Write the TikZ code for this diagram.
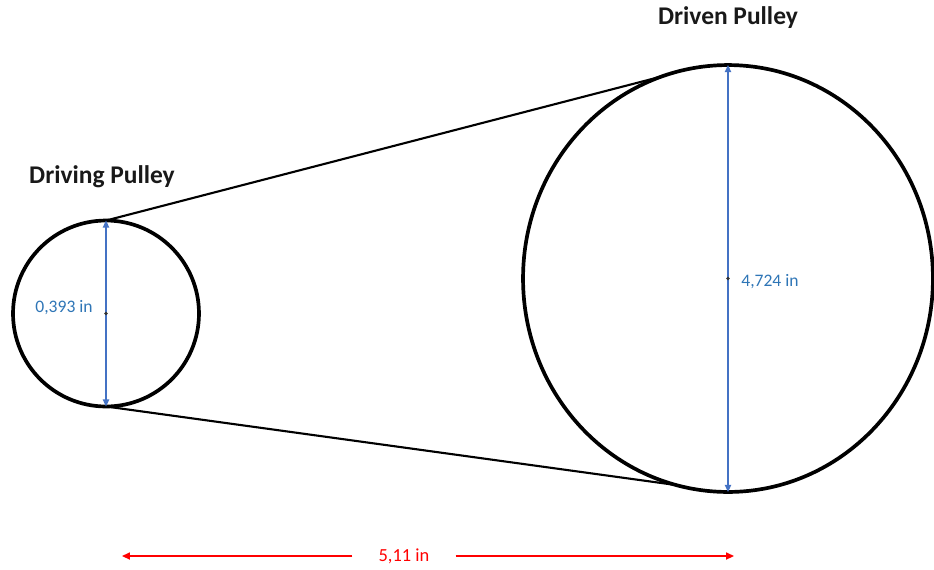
\documentclass[tikz,border=0pt]{standalone}
\usepackage{fontspec}
\setmainfont{Carlito}
\usetikzlibrary{positioning,shapes.geometric,arrows.meta}
\definecolor{diablue}{HTML}{4472C4}
\definecolor{txtblue}{HTML}{2E75B6}

\begin{document}
\begin{tikzpicture}[x=0.02cm,y=-0.02cm,
  pulley/.style={draw=black,line width=2.1pt,inner sep=0pt,outer sep=0pt},
  belt/.style={draw=black,line width=1.2pt},
  dia/.style={draw=diablue,line width=0.75pt,{Triangle[length=4pt,width=3.6pt]}-{Triangle[length=4pt,width=3.6pt]}},
  span/.style={draw=red,line width=0.9pt,-{Triangle[length=4.5pt,width=4pt]}},
  title/.style={font=\fontsize{14.5}{16}\selectfont\bfseries,text=black!90},
  diatext/.style={font=\fontsize{10}{12}\selectfont,text=txtblue,inner sep=0pt},
  hub/.style={circle,fill=black!80,inner sep=0pt,minimum size=2.2pt}]
\useasboundingbox (0,0) rectangle (934,569);
% the two pulleys
\node[pulley,circle,minimum size=3.72cm] (driving) at (106,313.5) {};
\node[pulley,ellipse,minimum width=8.2cm,minimum height=8.54cm] (driven) at (728,278.5) {};
% belt
\draw[belt] (driving.north) -- (driven.108);
\draw[belt] (driving.south) -- (driven.256);
% diameters
\draw[dia] (driving.north) -- (driving.south);
\draw[dia] (driven.north) -- (driven.south);
\node[hub] (drivinghub) at (driving.center) {};
\node[hub] (drivenhub) at (driven.center) {};
\node[diatext,anchor=east] (drivingdia) at (93,308) {0,393 in};
\node[diatext,anchor=west] (drivendia) at (741,282) {4,724 in};
% names
\node[title] (drivingname) at (102,177) {Driving Pulley};
\node[title] (drivenname) at (728,18) {Driven Pulley};
% centre distance
\coordinate (spanL) at (122,556);
\coordinate (spanR) at (734,556);
\node[font=\fontsize{10.5}{12}\selectfont,text=red,inner ysep=0pt,inner xsep=0.52cm] (spantext) at (404,556) {5,11 in};
\draw[span] (spantext.west) -- (spanL);
\draw[span] (spantext.east) -- (spanR);
\end{tikzpicture}
\end{document}
